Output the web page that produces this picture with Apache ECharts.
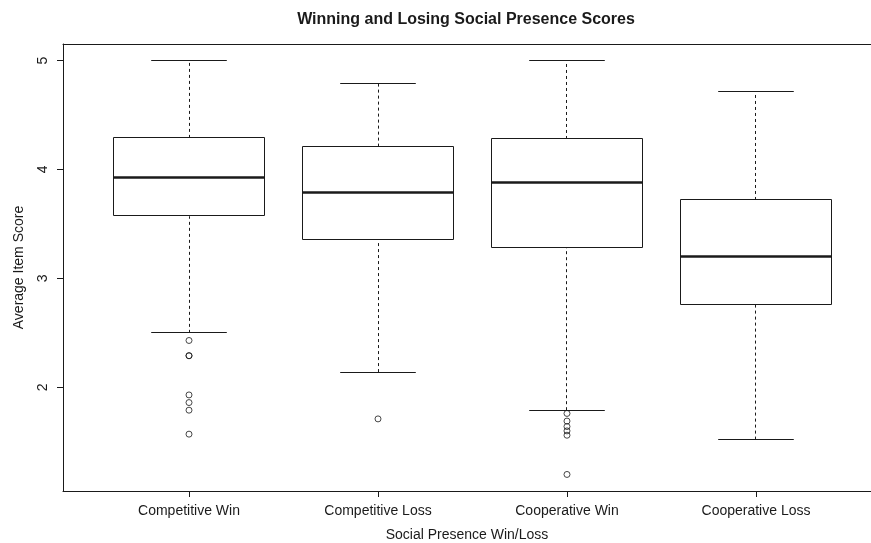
<!DOCTYPE html>
<html>
<head>
<meta charset="utf-8">
<title>Winning and Losing Social Presence Scores</title>
<script src="https://cdn.jsdelivr.net/npm/echarts@6/dist/echarts.min.js"></script>
<style>
    html, body { margin: 0; padding: 0; background: #fff; }
    #chart { width: 871px; height: 543px; }
</style>
</head>
<body>
<div id="chart"></div>
<script>
// 组别与箱线图五数概括
const categories = ['Competitive Win', 'Competitive Loss', 'Cooperative Win', 'Cooperative Loss'];
const whiskerLow = [2.5, 2.14, 1.79, 1.52];
const q1 = [3.57, 3.36, 3.28, 2.76];
const median = [3.93, 3.79, 3.88, 3.2];
const q3 = [4.29, 4.21, 4.28, 3.72];
const whiskerHigh = [5, 4.79, 5, 4.72];

// 离群点
const outliers = [
    [2.43, 2.29, 2.29, 1.93, 1.86, 1.79, 1.57],
    [1.71],
    [1.76, 1.69, 1.64, 1.6, 1.56, 1.2],
    []
];

const yTicks = [2, 3, 4, 5];
const xTicks = [1, 2, 3, 4];

const boxData = categories.map((c, i) => [i + 1, whiskerLow[i], q1[i], median[i], q3[i], whiskerHigh[i]]);
const outlierData = [];
outliers.forEach((list, i) => list.forEach(v => outlierData.push([i + 1, v])));

const chart = echarts.init(document.getElementById('chart'));
const ink = '#1a1a1a';
const font = 'Liberation Sans, Arial, Helvetica, sans-serif';
// 右侧边框在原图之外，所以 x 轴范围不对称
const xMin = 0.3333, xMax = 4.6085;

// 让 1px 线落在像素中心，避免发虚
const crisp = v => Math.round(v - 0.5) + 0.5;

function renderBox(params, api) {
    const x = api.value(0);
    const lo = api.value(1), b1 = api.value(2), md = api.value(3), b3 = api.value(4), hi = api.value(5);
    const half = 0.4, cap = 0.2;
    const pt = (xx, yy) => api.coord([xx, yy]);
    const solid = { stroke: ink, lineWidth: 1, fill: null };
    const dashed = { stroke: ink, lineWidth: 1, lineDash: [3, 3] };
    const hline = (xa, xb, y, style) => {
        const a = pt(xa, y), b = pt(xb, y);
        const yy = crisp(a[1]);
        return { type: 'line', shape: { x1: a[0], y1: yy, x2: b[0], y2: yy }, style: style };
    };
    const vline = (ya, yb, style) => {
        const a = pt(x, ya), b = pt(x, yb);
        const xx = crisp(a[0]);
        return { type: 'line', shape: { x1: xx, y1: a[1], x2: xx, y2: b[1] }, style: style };
    };
    const tl = pt(x - half, b3), br = pt(x + half, b1);
    const rx = crisp(tl[0]), ry = crisp(tl[1]);
    return {
        type: 'group',
        children: [
            vline(b3, hi, dashed),
            vline(lo, b1, dashed),
            hline(x - cap, x + cap, hi, solid),
            hline(x - cap, x + cap, lo, solid),
            {
                type: 'rect',
                shape: { x: rx, y: ry, width: Math.round(br[0] - tl[0]), height: Math.round(br[1] - tl[1]) },
                style: { stroke: ink, lineWidth: 1, fill: '#fff' }
            },
            hline(x - half, x + half, md, { stroke: ink, lineWidth: 2.5 })
        ]
    };
}

const option = {
    backgroundColor: '#fff',
    animation: false,
    textStyle: { fontFamily: font, color: ink },
    title: {
        text: 'Winning and Losing Social Presence Scores',
        left: 461,
        top: 7,
        textAlign: 'center',
        textStyle: { fontFamily: font, fontSize: 16, fontWeight: 'bold', color: ink }
    },
    grid: {
        left: 63,
        right: 0,
        top: 44,
        bottom: 52,
        outerBoundsMode: 'none'
    },
    xAxis: [
        {
            type: 'value',
            min: xMin,
            max: xMax,
            name: 'Social Presence Win/Loss',
            nameLocation: 'middle',
            nameGap: 37,
            nameTextStyle: { fontSize: 14, color: ink },
            axisLine: { show: true, onZero: false, lineStyle: { color: ink } },
            splitLine: { show: false },
            axisTick: { show: true, length: 6, customValues: xTicks, lineStyle: { color: ink } },
            axisLabel: {
                customValues: xTicks,
                fontSize: 14,
                color: ink,
                margin: 13,
                formatter: v => categories[Math.round(v) - 1] || ''
            }
        },
        {
            type: 'value',
            position: 'top',
            min: xMin,
            max: xMax,
            axisLine: { show: true, onZero: false, lineStyle: { color: ink } },
            axisTick: { show: false },
            axisLabel: { show: false },
            splitLine: { show: false }
        }
    ],
    yAxis: {
        type: 'value',
        min: 1.048,
        max: 5.152,
        name: 'Average Item Score',
        nameLocation: 'middle',
        nameGap: 37,
        nameRotate: 90,
        nameTextStyle: { fontSize: 14, color: ink },
        axisLine: { show: true, onZero: false, lineStyle: { color: ink } },
        splitLine: { show: false },
        axisTick: { show: true, length: 6, customValues: yTicks, lineStyle: { color: ink } },
        axisLabel: {
            customValues: yTicks,
            fontSize: 14,
            color: ink,
            rotate: 90,
            margin: 13
        }
    },
    series: [
        {
            name: 'box',
            type: 'custom',
            renderItem: renderBox,
            encode: { x: 0, y: [1, 2, 3, 4, 5] },
            data: boxData,
            z: 2
        },
        {
            name: 'outliers',
            type: 'scatter',
            symbol: 'circle',
            symbolSize: 6,
            itemStyle: { color: 'transparent', borderColor: ink, borderWidth: 1 },
            data: outlierData,
            z: 3
        }
    ]
};

chart.setOption(option);
</script>
</body>
</html>
